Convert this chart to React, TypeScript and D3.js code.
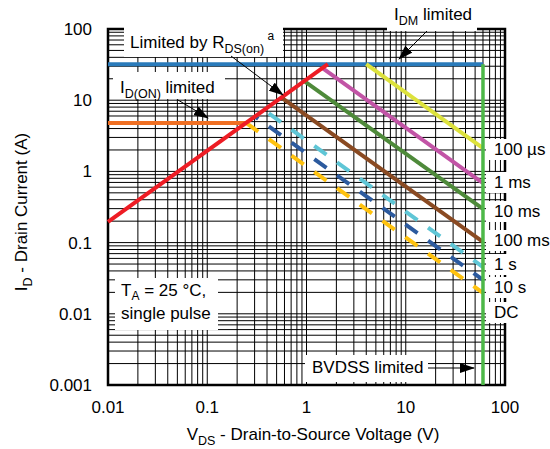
import React from "react";
import * as d3 from "d3";

// ---- data ----
const xTickValues = [0.01, 0.1, 1, 10, 100];
const xTickLabels = ["0.01", "0.1", "1", "10", "100"];
const yTickValues = [0.001, 0.01, 0.1, 1, 10, 100];
const yTickLabels = ["0.001", "0.01", "0.1", "1", "10", "100"];

const bvdssV = 60; // V, breakdown limit
const bvdssI = [0.001, 32];
const idmV = [0.01, 60];
const idmI = [32, 32];
const idOnV = [0.01, 0.246];
const idOnI = [4.8, 4.8];
const rdsV = [0.01, 1.64];
const rdsI = [0.195, 32];

const pulseLabels = ["100 µs", "1 ms", "10 ms", "100 ms", "1 s", "10 s", "DC"];
const pulseStartV = [4.0, 1.45, 0.95, 0.56, 0.374, 0.303, 0.246];
const pulseStartI = [32, 28.3, 18.5, 10.9, 7.3, 5.9, 4.8];
const pulseEndV = [60, 60, 60, 60, 60, 60, 60];
const pulseEndI = [2.13, 0.687, 0.297, 0.102, 0.0454, 0.0299, 0.0196];
const pulseDashed = [false, false, false, false, true, true, true];
const pulseColors = ["#dde23c", "#c254a6", "#4e8a3a", "#8a4a22", "#5fc6d6", "#2c5a9e", "#ffc20e"];
const labelBaselines = [155, 188, 217, 246, 270, 293, 318];

const FONT = "'Liberation Sans', Arial, Helvetica, sans-serif";
const FS = 17;

export default function App() {
  const W = 550, H = 449;
  const L = 108, R = 505, T = 29, B = 385;
  const x = d3.scaleLog().domain([0.01, 100]).range([L, R]);
  const y = d3.scaleLog().domain([0.001, 100]).range([B, T]);
  const line = d3.line<[number, number]>().x(d => x(d[0])).y(d => y(d[1]));

  const gridV: number[] = [];
  const gridH: number[] = [];
  for (let e = -2; e < 2; e++) for (let k = 1; k < 10; k++) gridV.push(k * Math.pow(10, e));
  for (let e = -3; e < 2; e++) for (let k = 1; k < 10; k++) gridH.push(k * Math.pow(10, e));

  const dashAnchorX = x(pulseStartV[6]);
  const dashLen = 15, gapLen = 13;

  const pts = (vs: number[], is: number[]) => vs.map((v, i) => [v, is[i]] as [number, number]);

  return (
    <svg width={W} height={H} style={{ position: "absolute", left: 0, top: 0, background: "#fff" }} fontFamily={FONT}>
      <defs>
        <marker id="ah" markerUnits="userSpaceOnUse" markerWidth={15} markerHeight={10} refX={14} refY={5} orient="auto">
          <path d="M0,0 L15,5 L0,10 z" fill="#000" />
        </marker>
      </defs>
      <rect x={0} y={0} width={W} height={H} fill="#fff" />
      {/* grid */}
      <g stroke="#000" strokeWidth={1}>
        {gridV.map((v, i) => (
          <line key={"v" + i} x1={x(v)} x2={x(v)} y1={T} y2={B} />
        ))}
        {gridH.map((v, i) => (
          <line key={"h" + i} x1={L} x2={R} y1={y(v)} y2={y(v)} />
        ))}
      </g>
      <rect x={L} y={T} width={R - L} height={B - T} fill="none" stroke="#000" strokeWidth={2.5} />

      {/* limit lines */}
      <path d={line(pts(idOnV, idOnI)) || ""} stroke="#f07024" strokeWidth={4} fill="none" />
      <path d={line(pts(idmV, idmI)) || ""} stroke="#2a7bbb" strokeWidth={4} fill="none" />
      {pulseLabels.map((lab, i) => {
        const x0 = x(pulseStartV[i]), x1 = x(pulseEndV[i]);
        const y0 = y(pulseStartI[i]), y1 = y(pulseEndI[i]);
        const factor = Math.hypot(x1 - x0, y1 - y0) / (x1 - x0);
        const off = (x0 - dashAnchorX) * factor;
        return (
          <path
            key={lab}
            d={line([[pulseStartV[i], pulseStartI[i]], [pulseEndV[i], pulseEndI[i]]]) || ""}
            stroke={pulseColors[i]}
            strokeWidth={4}
            fill="none"
            strokeDasharray={pulseDashed[i] ? `${dashLen},${gapLen}` : undefined}
            strokeDashoffset={pulseDashed[i] ? off : undefined}
          />
        );
      })}
      <path d={line(pts(rdsV, rdsI)) || ""} stroke="#ee1c24" strokeWidth={4} fill="none" />
      <path d={line(pts([bvdssV, bvdssV], bvdssI)) || ""} stroke="#4db848" strokeWidth={3.5} fill="none" />

      {/* tick labels */}
      <g fontSize={FS} fill="#000">
        {xTickValues.map((v, i) => (
          <text key={"xt" + i} x={x(v)} y={413} textAnchor="middle">{xTickLabels[i]}</text>
        ))}
        {yTickValues.map((v, i) => (
          <text key={"yt" + i} x={92} y={y(v) + 6} textAnchor="end">{yTickLabels[i]}</text>
        ))}
      </g>

      {/* axis titles */}
      <text x={313} y={440} textAnchor="middle" fontSize={FS}>
        V<tspan fontSize={12.5} dy={5}>DS</tspan><tspan dy={-5}> - Drain-to-Source Voltage (V)</tspan>
      </text>
      <text transform={`translate(27,${212}) rotate(-90)`} textAnchor="middle" fontSize={FS}>
        I<tspan fontSize={12.5} dy={5}>D</tspan><tspan dy={-5}> - Drain Current (A)</tspan>
      </text>

      {/* annotations */}
      <rect x={124} y={20} width={159} height={37} fill="#fff" />
      <text x={130} y={48} fontSize={FS}>
        Limited by R<tspan fontSize={12.5} dy={5}>DS(on)</tspan><tspan fontSize={12} dy={-13}>{" "}a</tspan>
      </text>
      <line x1={231} y1={56} x2={283} y2={95} stroke="#000" strokeWidth={1} markerEnd="url(#ah)" />

      <rect x={113} y={72} width={112} height={27} fill="#fff" />
      <text x={120} y={93} fontSize={FS}>
        I<tspan fontSize={12.5} dy={5}>D(ON)</tspan><tspan dy={-5}> limited</tspan>
      </text>
      <line x1={178} y1={100} x2={208} y2={118} stroke="#000" strokeWidth={1} markerEnd="url(#ah)" />

      <rect x={387} y={0} width={90} height={31} fill="#fff" />
      <text x={394} y={20} fontSize={FS}>
        I<tspan fontSize={12.5} dy={5}>DM</tspan><tspan dy={-5}> limited</tspan>
      </text>
      <line x1={427} y1={31} x2={399} y2={59} stroke="#000" strokeWidth={1} markerEnd="url(#ah)" />

      <rect x={305} y={355} width={123} height={27} fill="#fff" />
      <text x={312} y={373} fontSize={FS}>BVDSS limited</text>
      <line x1={428} y1={368} x2={474} y2={368} stroke="#000" strokeWidth={1} markerEnd="url(#ah)" />

      <rect x={115} y={278} width={103} height={52} fill="#fff" />
      <text x={121} y={296} fontSize={FS}>
        T<tspan fontSize={12} dy={3.5}>A</tspan><tspan dy={-3.5}> = 25 °C,</tspan>
      </text>
      <text x={121} y={319} fontSize={FS}>single pulse</text>

      {/* pulse labels */}
      {pulseLabels.map((lab, i) => (
        <g key={"pl" + i}>
          <rect x={486} y={labelBaselines[i] - 16} width={64} height={21} fill="#fff" />
          <text x={494} y={labelBaselines[i]} fontSize={FS}>{lab}</text>
        </g>
      ))}
    </svg>
  );
}
